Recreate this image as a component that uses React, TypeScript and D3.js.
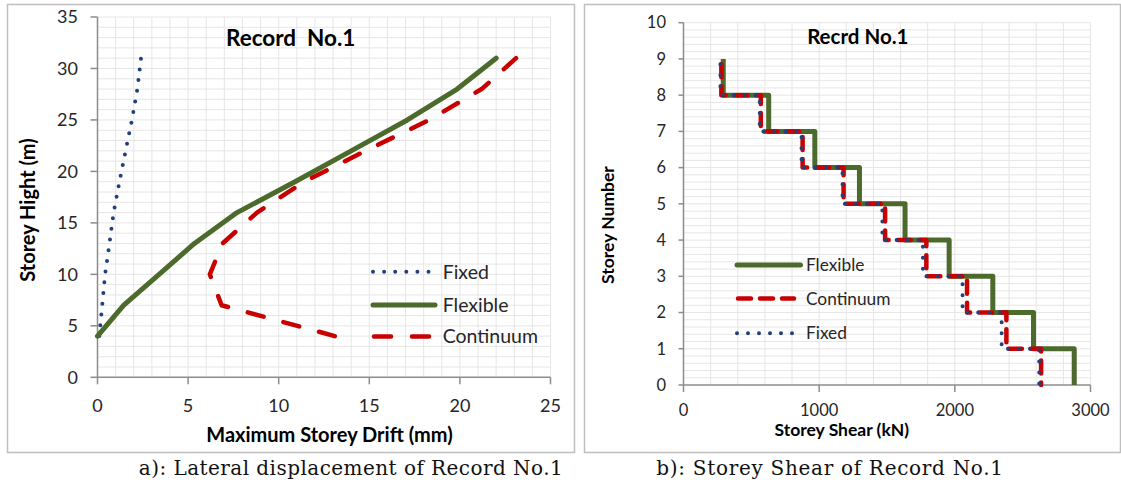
import React from 'react';
import * as d3 from 'd3';

// ---------- Data: (a) Lateral displacement ----------
const heights = [4, 7, 10, 13, 16, 19, 22, 25, 28, 31];
const fixedDrift = [0.1, 0.26, 0.42, 0.66, 0.89, 1.21, 1.55, 1.9, 2.2, 2.4];
const flexibleDrift = [0, 1.45, 3.4, 5.35, 7.7, 10.9, 14.0, 17.1, 19.85, 22.0];
const continuumDrift = [13.1, 6.85, 6.2, 6.9, 8.8, 11.4, 14.8, 18.3, 21.2, 23.1];
const driftTicks = [0, 5, 10, 15, 20, 25];
const heightTicks = [0, 5, 10, 15, 20, 25, 30, 35];

// ---------- Data: (b) Storey shear (index 0 = storey 1) ----------
const storeyNumbers = [1, 2, 3, 4, 5, 6, 7, 8, 9];
const flexibleShear = [2880, 2580, 2280, 1958, 1633, 1297, 968, 628, 293];
const continuumShear = [2636, 2380, 2090, 1790, 1486, 1180, 878, 570, 279];
const fixedShear = [2622, 2345, 2057, 1765, 1466, 1172, 870, 562, 272];
const flexibleTop = 9.0;
const continuumTop = 8.85;
const fixedTop = 8.85;
const shearTicks = [0, 1000, 2000, 3000];
const storeyTicks = [0, 1, 2, 3, 4, 5, 6, 7, 8, 9, 10];

const FONT = "Lato, 'Liberation Sans', sans-serif";
const SERIF = "'DejaVu Serif', 'Liberation Serif', serif";
const GREEN = '#4B6A2B';
const RED = '#C80000';
const BLUE = '#22407A';
const GRID = '#E6E6E6';
const AXIS = '#8C8C8C';
const TXT = '#262626';

function stepPoints(v: number[], top: number): [number, number][] {
  const n = v.length;
  const pts: [number, number][] = [[v[n - 1], top]];
  for (let k = n; k >= 1; k--) {
    pts.push([v[k - 1], k - 1]);
    if (k > 1) pts.push([v[k - 2], k - 1]);
  }
  return pts;
}

// dash pattern adjusted so that a dash sits at both ends of a polyline
function fitDash(pix: [number, number][], d: number, g: number): string {
  let L = 0;
  for (let i = 1; i < pix.length; i++) {
    L += Math.hypot(pix[i][0] - pix[i - 1][0], pix[i][1] - pix[i - 1][1]);
  }
  const n = Math.max(1, Math.round((L - d) / (d + g)));
  const s = L / (n * (d + g) + d);
  return `${(d * s).toFixed(2)} ${(g * s).toFixed(2)}`;
}

export default function App() {
  // Left chart scales
  const xL = d3.scaleLinear().domain([0, 25]).range([97.5, 550.5]);
  const yL = d3.scaleLinear().domain([0, 35]).range([377.3, 17]);
  const lineL = d3
    .line<[number, number]>()
    .x((d) => xL(d[0]))
    .y((d) => yL(d[1]));
  const zipL = (xs: number[]) => xs.map((x, i) => [x, heights[i]] as [number, number]);
  const contPts = zipL(continuumDrift).slice().reverse();
  const contDash = fitDash(contPts.map((p) => [xL(p[0]), yL(p[1])] as [number, number]), 16, 20);

  // Right chart scales
  const xR = d3.scaleLinear().domain([0, 3000]).range([683.5, 1090.5]);
  const yR = d3.scaleLinear().domain([0, 10]).range([385, 22.7]);
  const lineR = d3
    .line<[number, number]>()
    .x((d) => xR(d[0]))
    .y((d) => yR(d[1]));

  const gridXL = d3.range(1, 26);
  const gridYL = d3.range(1, 36);
  const gridXR = d3.range(200, 3001, 200);
  const gridYR = d3.range(1, 51).map((i) => i * 0.2);

  return (
    <svg
      width={1121}
      height={484}
      style={{ position: 'absolute', left: 0, top: 0, background: '#fff' }}
      fontFamily={FONT}
    >
      <rect x={0} y={0} width={1121} height={484} fill="#fff" />
      {/* Frames */}
      <rect x={7.5} y={4.5} width={567} height={448} fill="none" stroke="#BFBFBF" strokeWidth={1.5} />
      <rect x={584.5} y={4.5} width={536} height={448} fill="none" stroke="#BFBFBF" strokeWidth={1.5} />

      {/* ===== Left chart ===== */}
      <g>
        {gridXL.map((v) => (
          <line key={'gxl' + v} x1={xL(v)} x2={xL(v)} y1={yL(0)} y2={yL(35)} stroke={GRID} strokeWidth={1} />
        ))}
        {gridYL.map((v) => (
          <line key={'gyl' + v} x1={xL(0)} x2={xL(25)} y1={yL(v)} y2={yL(v)} stroke={GRID} strokeWidth={1} />
        ))}
        <line x1={xL(0)} x2={xL(0)} y1={yL(0)} y2={yL(35)} stroke={AXIS} strokeWidth={1.5} />
        <line x1={xL(0)} x2={xL(25)} y1={yL(0)} y2={yL(0)} stroke={AXIS} strokeWidth={1.5} />
        {heightTicks.map((t) => (
          <g key={'hyl' + t}>
            <line x1={xL(0) - 7} x2={xL(0)} y1={yL(t)} y2={yL(t)} stroke={AXIS} strokeWidth={1.5} />
            <text x={78} y={yL(t)} dy="0.35em" textAnchor="end" fontSize={18} fill={TXT}>
              {t}
            </text>
          </g>
        ))}
        {driftTicks.map((t) => (
          <g key={'dxl' + t}>
            <line x1={xL(t)} x2={xL(t)} y1={yL(0)} y2={yL(0) + 7} stroke={AXIS} strokeWidth={1.5} />
            <text x={xL(t)} y={406} dy="0.35em" textAnchor="middle" fontSize={18} fill={TXT}>
              {t}
            </text>
          </g>
        ))}

        <path
          d={lineL(zipL(fixedDrift)) || ''}
          fill="none"
          stroke={BLUE}
          strokeWidth={4}
          strokeLinecap="round"
          strokeDasharray="0 10.8"
        />
        <path
          d={lineL(zipL(flexibleDrift)) || ''}
          fill="none"
          stroke={GREEN}
          strokeWidth={5}
          strokeLinejoin="round"
          strokeLinecap="round"
        />
        <path
          d={lineL(contPts) || ''}
          fill="none"
          stroke={RED}
          strokeWidth={4.5}
          strokeLinejoin="round"
          strokeLinecap="round"
          strokeDasharray={contDash}
        />

        <text x={290.7} y={38.5} dy="0.35em" textAnchor="middle" fontSize={22.5} fontWeight="bold" fill="#000" style={{ whiteSpace: 'pre' }}>
          {'Record  No.1'}
        </text>
        <text x={329.5} y={435} dy="0.35em" textAnchor="middle" fontSize={20} fontWeight="bold" fill="#000">
          Maximum Storey Drift (mm)
        </text>
        <text
          transform="translate(28,210) rotate(-90)"
          dy="0.35em"
          textAnchor="middle"
          fontSize={20}
          fontWeight="bold"
          fill="#000"
        >
          Storey Hight (m)
        </text>

        {/* Legend */}
        <line x1={373} x2={430} y1={271.7} y2={271.7} stroke={BLUE} strokeWidth={4} strokeLinecap="round" strokeDasharray="0 11.1" />
        <text x={442.7} y={271.7} dy="0.35em" fontSize={19.5} fill={TXT}>Fixed</text>
        <line x1={373} x2={435} y1={305} y2={305} stroke={GREEN} strokeWidth={5} strokeLinecap="round" />
        <text x={442.7} y={305} dy="0.35em" fontSize={19.5} fill={TXT}>Flexible</text>
        <line x1={374} x2={431} y1={336.5} y2={336.5} stroke={RED} strokeWidth={4.5} strokeLinecap="round" strokeDasharray="17 21" />
        <text x={442.7} y={336.5} dy="0.35em" fontSize={19.5} fill={TXT}>Continuum</text>
      </g>

      {/* ===== Right chart ===== */}
      <g>
        {gridXR.map((v) => (
          <line key={'gxr' + v} x1={xR(v)} x2={xR(v)} y1={yR(0)} y2={yR(10)} stroke={GRID} strokeWidth={1} />
        ))}
        {gridYR.map((v, i) => (
          <line key={'gyr' + i} x1={xR(0)} x2={xR(3000)} y1={yR(v)} y2={yR(v)} stroke={GRID} strokeWidth={1} />
        ))}
        <line x1={xR(0)} x2={xR(0)} y1={yR(0)} y2={yR(10)} stroke={AXIS} strokeWidth={1.5} />
        <line x1={xR(0)} x2={xR(3000)} y1={yR(0)} y2={yR(0)} stroke={AXIS} strokeWidth={1.5} />
        {storeyTicks.map((t) => (
          <g key={'syr' + t}>
            <line x1={xR(0) - 5} x2={xR(0)} y1={yR(t)} y2={yR(t)} stroke={AXIS} strokeWidth={1.5} />
            <text x={666} y={yR(t)} dy="0.35em" textAnchor="end" fontSize={16.5} fill={TXT}>
              {t}
            </text>
          </g>
        ))}
        {shearTicks.map((t) => (
          <g key={'sxr' + t}>
            <line x1={xR(t)} x2={xR(t)} y1={yR(0)} y2={yR(0) + 7} stroke={AXIS} strokeWidth={1.5} />
            <text x={xR(t)} y={410.5} dy="0.35em" textAnchor="middle" fontSize={16.5} fill={TXT}>
              {t}
            </text>
          </g>
        ))}

        <path
          d={lineR(stepPoints(flexibleShear, flexibleTop)) || ''}
          fill="none"
          stroke={GREEN}
          strokeWidth={5}
          strokeLinejoin="round"
        />
        <path
          d={lineR(stepPoints(continuumShear, continuumTop)) || ''}
          fill="none"
          stroke={RED}
          strokeWidth={4.5}
          strokeLinejoin="round"
          strokeLinecap="round"
          strokeDasharray="13 9"
        />
        <path
          d={lineR(stepPoints(fixedShear, fixedTop)) || ''}
          fill="none"
          stroke={BLUE}
          strokeWidth={4}
          strokeLinecap="round"
          strokeDasharray="0 11"
        />

        <text x={857.8} y={36.7} dy="0.35em" textAnchor="middle" fontSize={20.5} fontWeight="bold" fill="#000">
          Recrd No.1
        </text>
        <text x={841.8} y={430} dy="0.35em" textAnchor="middle" fontSize={17.5} fontWeight="bold" fill="#000">
          Storey Shear (kN)
        </text>
        <text
          transform="translate(607.6,225) rotate(-90)"
          dy="0.35em"
          textAnchor="middle"
          fontSize={17.5}
          fontWeight="bold"
          fill="#000"
        >
          Storey Number
        </text>

        {/* Legend */}
        <line x1={737} x2={800.5} y1={265} y2={265} stroke={GREEN} strokeWidth={5} strokeLinecap="round" />
        <text x={806} y={265} dy="0.35em" fontSize={17.3} fill={TXT}>Flexible</text>
        <line x1={738} x2={794} y1={298.5} y2={298.5} stroke={RED} strokeWidth={4.5} strokeLinecap="round" strokeDasharray="13 9" />
        <text x={806} y={298.5} dy="0.35em" fontSize={17.3} fill={TXT}>Continuum</text>
        <line x1={737} x2={793} y1={333.3} y2={333.3} stroke={BLUE} strokeWidth={4} strokeLinecap="round" strokeDasharray="0 11" />
        <text x={806} y={333.3} dy="0.35em" fontSize={17.3} fill={TXT}>Fixed</text>
      </g>

      {/* Captions */}
      <text x={351} y={468} dy="0.35em" textAnchor="middle" fontSize={20} letterSpacing={0.45} fontFamily={SERIF} fill="#111">
        a): Lateral displacement of Record No.1
      </text>
      <text x={830} y={468} dy="0.35em" textAnchor="middle" fontSize={20} letterSpacing={0.7} fontFamily={SERIF} fill="#111">
        b): Storey Shear of Record No.1
      </text>
    </svg>
  );
}
